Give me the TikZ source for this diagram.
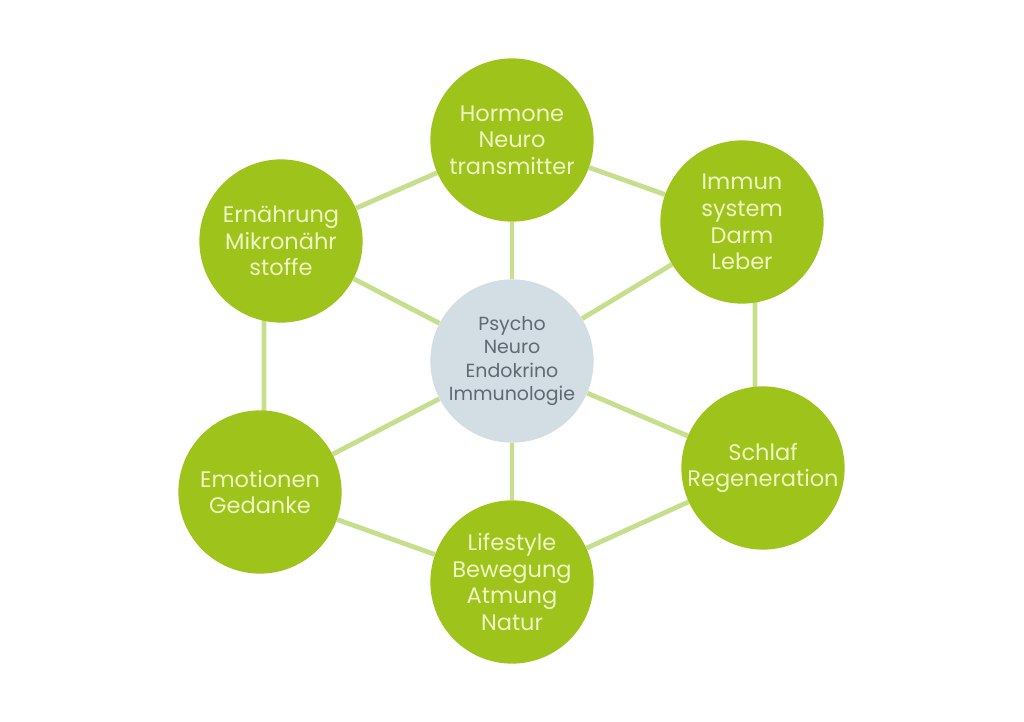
\documentclass[tikz,border=0pt]{standalone}
\usepackage{fontspec}
\setmainfont{Poppins}
\usetikzlibrary{backgrounds}
\definecolor{leaf}{HTML}{9EC31B}
\definecolor{twig}{HTML}{C6DF8C}
\definecolor{mist}{HTML}{D2DDE4}
\definecolor{cream}{HTML}{EEF6C4}
\definecolor{slate}{HTML}{5E6A72}
\begin{document}
\begin{tikzpicture}[x=0.025cm, y=-0.025cm,
    topic/.style={circle, fill=leaf, text=cream, minimum size=4.08cm, inner sep=0pt,
      align=center, font=\fontsize{16}{19}\selectfont},
    hub/.style={circle, fill=mist, text=slate, minimum size=4.08cm, inner sep=0pt,
      align=center, font=\fontsize{13.5}{16.5}\selectfont},
    link/.style={twig, line width=3.4pt}]
  \useasboundingbox (0,0) rectangle (1024,722);

  \node[hub] (pnei) at (512, 361) {Psycho\\Neuro\\Endokrino\\Immunologie};
  \node[topic] (hormon) at (512, 140) {Hormone\\Neuro\\transmitter};
  \node[topic] (immun) at (742, 222) {Immun\\system\\Darm\\Leber};
  \node[topic] (schlaf) at (763, 468) {Schlaf\\Regeneration};
  \node[topic] (life) at (512, 582) {Lifestyle\\Bewegung\\Atmung\\Natur};
  \node[topic] (emo) at (260, 492) {Emotionen\\Gedanke};
  \node[topic] (ernaehr) at (281, 241) {Ernährung\\Mikronähr\\stoffe};

  \begin{scope}[on background layer]
    \foreach \t in {hormon, immun, schlaf, life, emo, ernaehr}
      \draw[link] (pnei) -- (\t);
    \draw[link] (hormon) -- (immun);
    \draw[link] ([xshift=0.325cm]immun.center) -- ([xshift=-0.2cm]schlaf.center);
    \draw[link] (schlaf) -- (life) -- (emo);
    \draw[link] ([xshift=0.1cm]emo.center) -- ([xshift=-0.425cm]ernaehr.center);
    \draw[link] (ernaehr) -- (hormon);
  \end{scope}
\end{tikzpicture}
\end{document}
